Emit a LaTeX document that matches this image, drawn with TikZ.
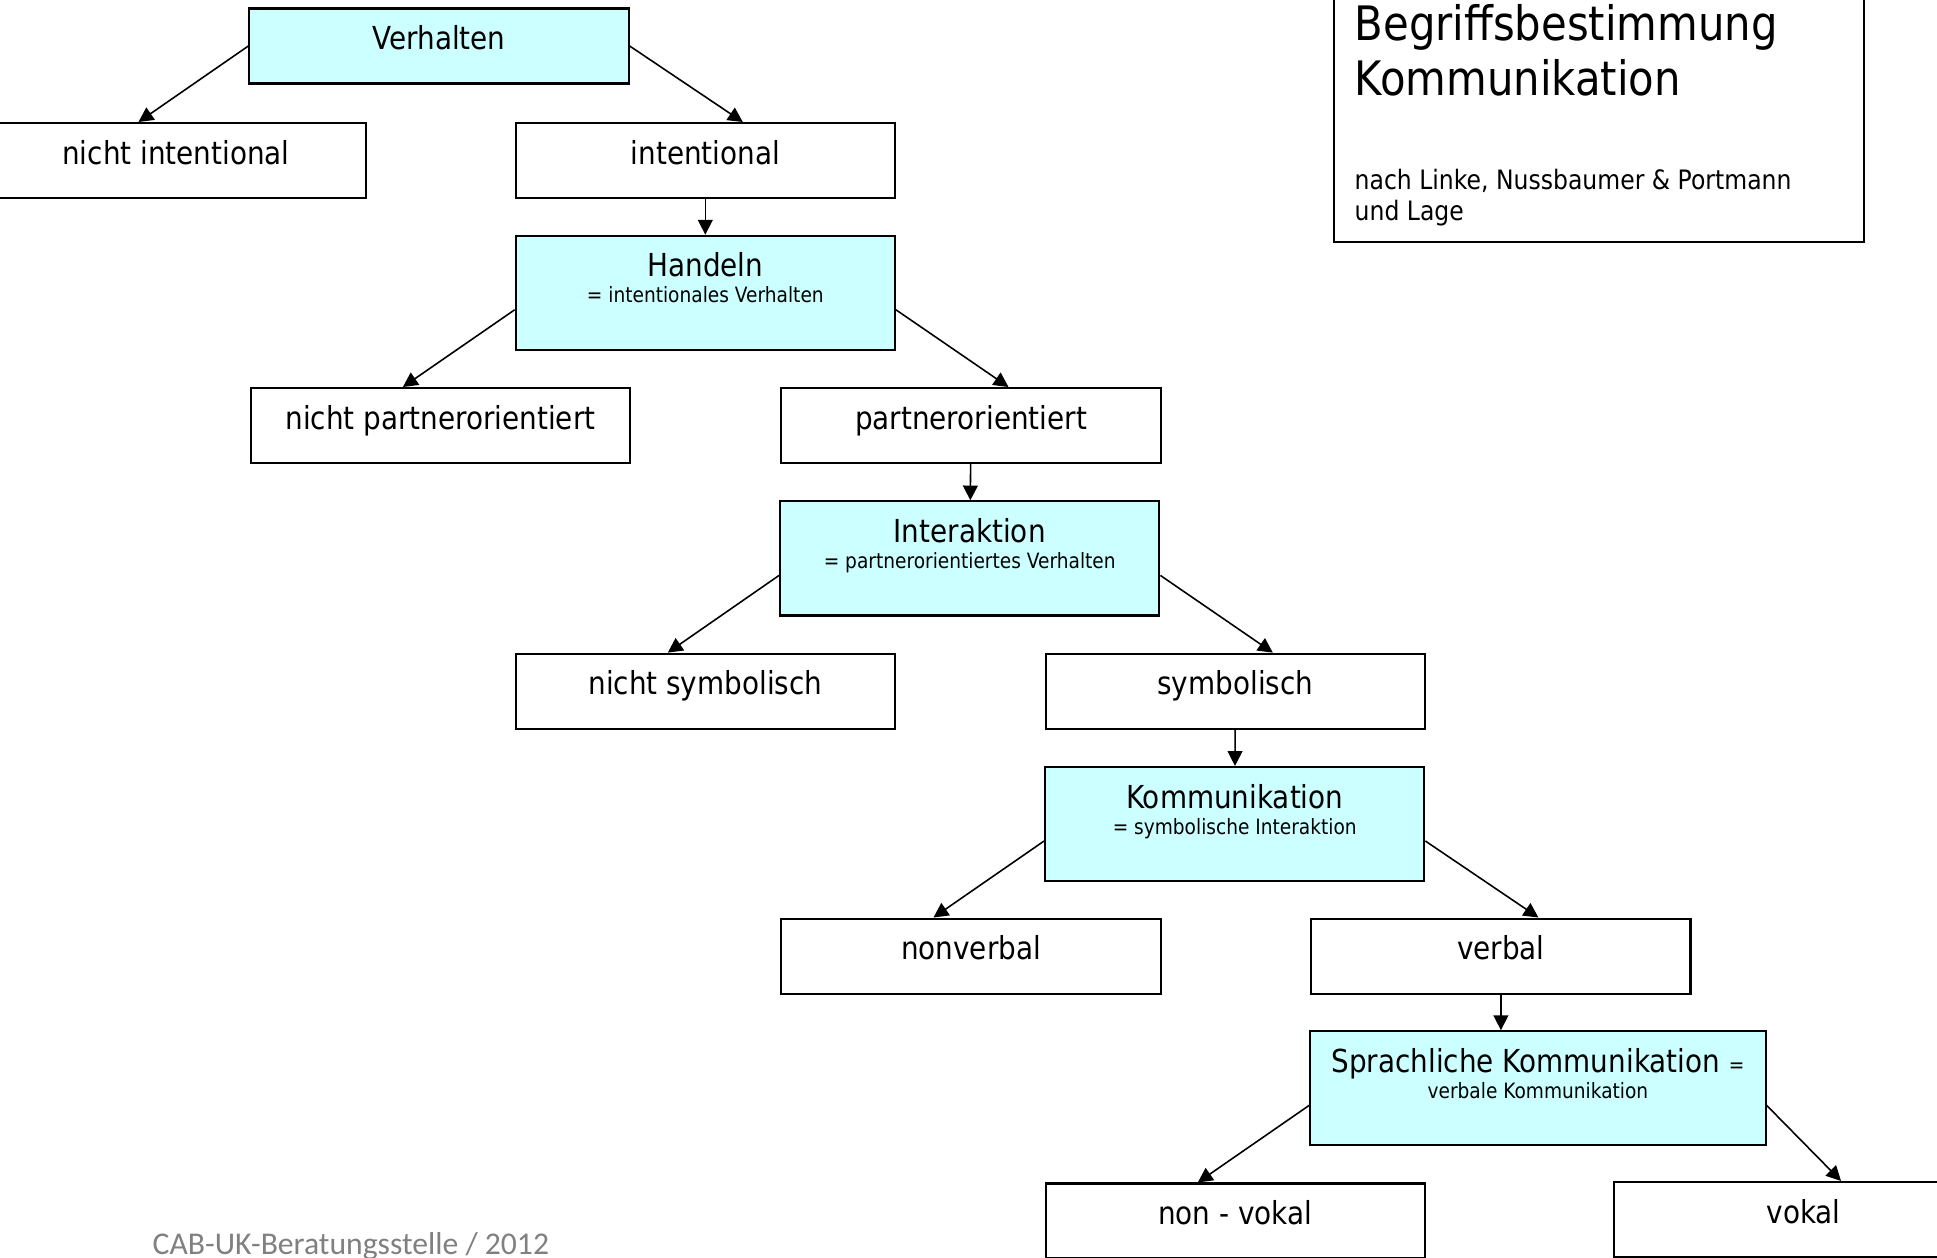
\documentclass[tikz,border=0pt]{standalone}
\usepackage{fontspec}
\setmainfont{DejaVu Sans}[FakeStretch=0.88]
\newfontfamily\fussfont{Carlito}
\usetikzlibrary{arrows.meta}
\definecolor{boxcyan}{RGB}{204,255,255}
\definecolor{fussgrau}{RGB}{128,128,128}
\newcommand{\klein}[1]{{\fontsize{6}{7}\selectfont #1}}

\begin{document}
\begin{tikzpicture}[x=0.01cm, y=-0.01cm]
        \tikzset{box/.style = {shape=rectangle, draw, line width=0.6pt, minimum width=3.79cm, inner xsep=2pt, inner ysep=0pt, text height=0.41cm, text depth=0.34cm, font=\fontsize{9}{10}\selectfont}}
        \tikzset{defbox/.style = {box, fill=boxcyan, align=center, text height=0.67cm, text depth=0.47cm}}
        \tikzset{conn/.style = {-{Triangle[length=4.2pt, width=4.2pt]}, line width=0.45pt}}
        \useasboundingbox (0,0) rectangle (1937,1257);

        \node[box, fill=boxcyan] (verhalten) at (439, 46) {Verhalten};
        \node[box] (nichtint) at (176, 160.6) {nicht intentional};
        \node[box] (intentional) at (705.3, 160.6) {intentional};
        \node[defbox] (handeln) at (705.3, 292.8) {Handeln\\[-2.6pt]\klein{= intentionales Verhalten}};
        \node[box] (npo) at (440.4, 425.6) {nicht partnerorientiert};
        \node[box] (po) at (971, 425.6) {partnerorientiert};
        \node[defbox] (interaktion) at (969.7, 558.4) {Interaktion\\[-2.6pt]\klein{= partnerorientiertes Verhalten}};
        \node[box] (nsym) at (705.3, 691.2) {nicht symbolisch};
        \node[box] (sym) at (1235.3, 691.2) {symbolisch};
        \node[defbox] (komm) at (1234.7, 824) {Kommunikation\\[-2.6pt]\klein{= symbolische Interaktion}};
        \node[box] (nonverbal) at (971, 956.1) {nonverbal};
        \node[box] (verbal) at (1500.9, 956.1) {verbal};
        \node[defbox, minimum width=4.55cm] (sprach) at (1537.9, 1088.3) {Sprachliche Kommunikation \klein{=}\\[-2.6pt]\klein{verbale Kommunikation}};
        \node[box] (nonvokal) at (1235.3, 1221) {non - vokal};
        \node[box] (vokal) at (1803.5, 1219.5) {vokal};

        \draw[conn] (verhalten.west) -- ([xshift=-0.375cm]nichtint.north);
        \draw[conn] (verhalten.east) -- ([xshift=0.375cm]intentional.north);
        \draw[conn] (intentional) -- (handeln);
        \draw[conn] ([yshift=-0.17cm]handeln.west) -- ([xshift=-0.375cm]npo.north);
        \draw[conn] ([yshift=-0.17cm]handeln.east) -- ([xshift=0.375cm]po.north);
        \draw[conn] (po) -- (interaktion);
        \draw[conn] ([yshift=-0.17cm]interaktion.west) -- ([xshift=-0.375cm]nsym.north);
        \draw[conn] ([yshift=-0.17cm]interaktion.east) -- ([xshift=0.375cm]sym.north);
        \draw[conn] (sym) -- (komm);
        \draw[conn] ([yshift=-0.17cm]komm.west) -- ([xshift=-0.375cm]nonverbal.north);
        \draw[conn] ([yshift=-0.17cm]komm.east) -- ([xshift=0.375cm]verbal.north);
        \draw[conn] (verbal.south) -- (verbal.south |- sprach.north);
        \draw[conn] ([yshift=-0.17cm]sprach.west) -- ([xshift=-0.375cm]nonvokal.north);
        \draw[conn] ([yshift=-0.17cm]sprach.east) -- ([xshift=0.375cm]vokal.north);

        % Titel
        \draw[line width=0.6pt] (1334,-10) rectangle (1864,242);
        \node[anchor=base west, inner sep=0pt, font=\fontsize{13.5}{15}\selectfont] (titel1) at (1354, 40.8) {Begriffsbestimmung};
        \node[anchor=base west, inner sep=0pt, font=\fontsize{13.5}{15}\selectfont] (titel2) at (1354, 95) {Kommunikation};
        \node[anchor=base west, inner sep=0pt, font=\fontsize{7.6}{9}\selectfont] (quelle1) at (1354, 189) {nach Linke, Nussbaumer \& Portmann};
        \node[anchor=base west, inner sep=0pt, font=\fontsize{7.6}{9}\selectfont] (quelle2) at (1354, 220) {und Lage};

        \node[anchor=base west, inner sep=0pt, text=fussgrau, font=\fussfont\fontsize{9}{10}\selectfont] (fuss) at (152, 1254) {CAB-UK-Beratungsstelle / 2012};
\end{tikzpicture}
\end{document}
